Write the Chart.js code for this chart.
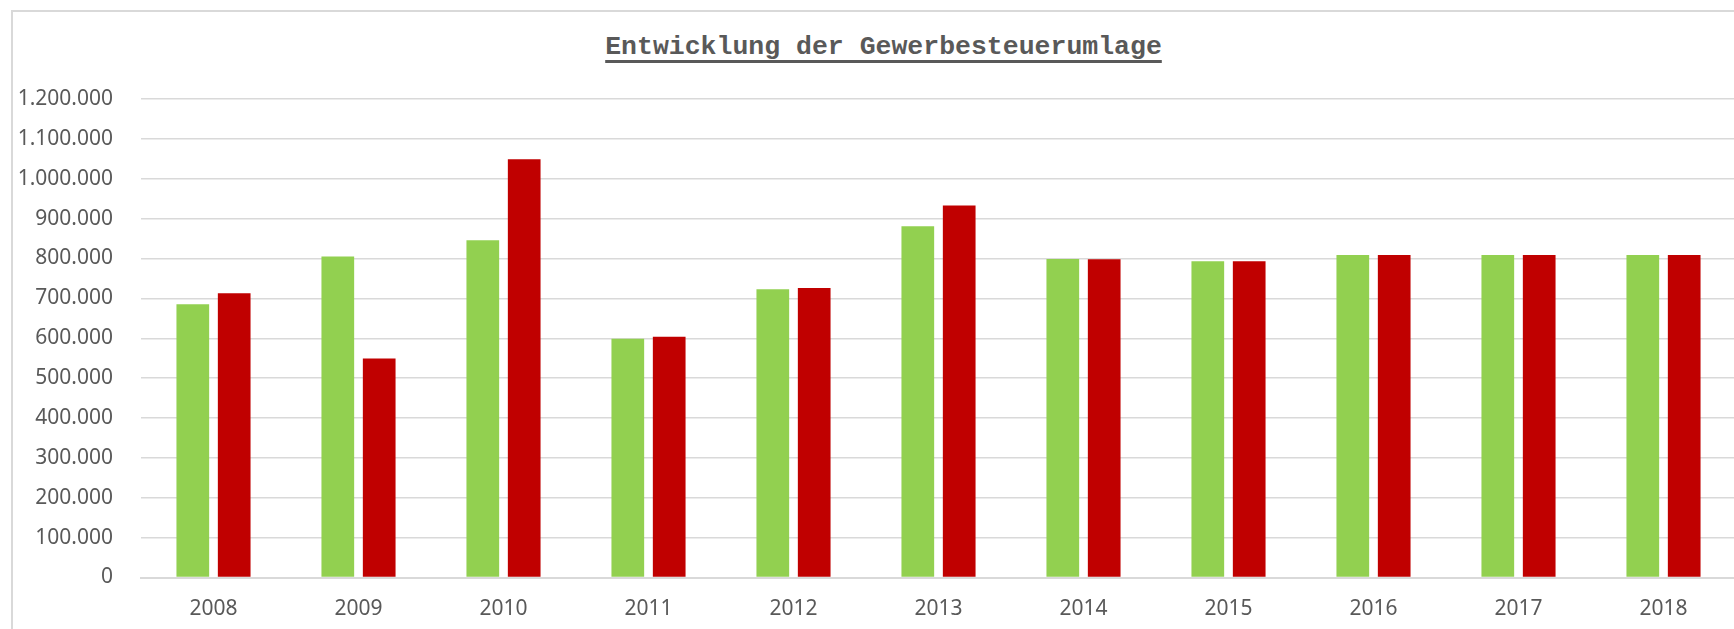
<!DOCTYPE html>
<html lang="de">
<head>
<meta charset="utf-8">
<title>Entwicklung der Gewerbesteuerumlage</title>
<script src="https://cdn.jsdelivr.net/npm/chart.js@4.4.1/dist/chart.umd.min.js"></script>
<style>
  html, body { margin: 0; padding: 0; background: #fff; overflow: hidden; }
  body { width: 1734px; height: 629px; position: relative; }
  #frame {
    position: absolute; left: 11px; top: 10px; width: 1800px; height: 700px;
    border-left: 2px solid #d9d9d9; border-top: 2px solid #d9d9d9;
  }
  #title {
    position: absolute; left: 883.5px; top: 34px; transform: translateX(-50%);
    font-family: 'Liberation Mono', 'Courier New', monospace; font-weight: bold;
    font-size: 26.5px; line-height: 1; color: #595959; white-space: nowrap;
    text-decoration: underline; text-decoration-thickness: 3px; text-underline-offset: 6px;
  }
  #chart { position: absolute; left: 0; top: 0; }
</style>
</head>
<body>
<div id="frame"></div>
<div id="title">Entwicklung der Gewerbesteuerumlage</div>
<canvas id="chart" width="1740" height="629"></canvas>
<script>
// Jahre und Werte
const jahre = ['2008', '2009', '2010', '2011', '2012', '2013', '2014', '2015', '2016', '2017', '2018'];
const planWerte = [685000, 805000, 846000, 599000, 723000, 881000, 799000, 793000, 809000, 809000, 809000];
const istWerte = [713000, 549000, 1049000, 604000, 726000, 933000, 798000, 793000, 809000, 809000, 809000];
const yTicks = [0, 1200000, 100000]; // min, max, Schritt

const textColor = '#595959';
const gridColor = '#d9d9d9';

function tausender(v) {
    return String(v).replace(/\B(?=(\d{3})+(?!\d))/g, '.');
}

const chartData = {
    labels: jahre,
    datasets: [
        {
            label: 'Plan',
            backgroundColor: '#92d050',
            data: planWerte,
            categoryPercentage: 0.571,
            barPercentage: 0.79,
        },
        {
            label: 'Ist',
            backgroundColor: '#c00000',
            data: istWerte,
            categoryPercentage: 0.571,
            barPercentage: 0.79,
        },
    ]
};

const chartConfig = {
    type: 'bar',
    data: chartData,
    options: {
        responsive: false,
        animation: false,
        layout: {
            padding: { left: 12, right: 4, top: 99, bottom: 0 }
        },
        plugins: {
            legend: { display: false },
            title: { display: false },
            tooltip: { enabled: false }
        },
        scales: {
            x: {
                grid: { display: false, drawTicks: false },
                border: { display: true, color: gridColor, width: 2 },
                ticks: {
                    color: textColor,
                    font: { family: "'Noto Sans', sans-serif", size: 21 },
                    padding: 19
                },
                afterFit: (s) => { s.height = 51.5; }
            },
            y: {
                min: yTicks[0],
                max: yTicks[1],
                grid: { color: gridColor, lineWidth: 1.5, drawTicks: false },
                border: { display: false },
                ticks: {
                    stepSize: yTicks[2],
                    color: textColor,
                    font: { family: "'Noto Sans', sans-serif", size: 21 },
                    padding: 28,
                    callback: (v) => tausender(v)
                },
                afterFit: (s) => { s.width = 129; }
            }
        }
    }
};

const chart = new Chart(document.getElementById('chart'), chartConfig);
</script>
</body>
</html>
